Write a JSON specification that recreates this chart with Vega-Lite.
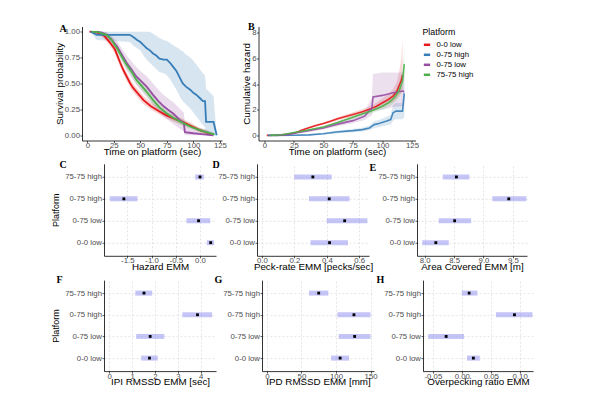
{
  "$schema": "https://vega.github.io/schema/vega-lite/v6.json",
  "padding": {"left": 51, "top": 21.5, "right": 5, "bottom": 5},
  "background": "white",
  "config": {
    "view": {"stroke": null},
    "font": "Liberation Sans",
    "axis": {
      "domainColor": "#000000", "domainWidth": 0.8,
      "tickColor": "#333333", "tickSize": 2, "tickWidth": 0.8,
      "labelColor": "#4d4d4d", "labelFontSize": 7.8, "labelFont": "Liberation Sans",
      "labelFlush": false, "labelOverlap": false,
      "titleFont": "Liberation Sans", "titleFontSize": 9.8, "titleFontWeight": "normal", "titleColor": "#000000",
      "grid": false,
      "gridColor": "#d4d4d4", "gridDash": [2, 2], "gridWidth": 0.6
    },
    "axisX": {"labelPadding": -1, "titlePadding": -3},
    "axisY": {"labelPadding": 0.5, "titlePadding": 3},
    "legend": {
      "titleFont": "Liberation Sans", "titleFontSize": 8.8, "titleFontWeight": "normal", "titleColor": "#000000",
      "labelFont": "Liberation Sans", "labelFontSize": 7.8, "labelColor": "#000000",
      "symbolType": "stroke", "symbolStrokeWidth": 2.5, "symbolSize": 40,
      "rowPadding": -1.5, "titlePadding": 4, "labelOffset": 5
    },
    "title": {"font": "Liberation Serif", "fontSize": 10, "fontWeight": "bold", "color": "#000000", "anchor": "start", "frame": "group", "baseline": "alphabetic", "offset": 0}
  },
  "datasets": {
    "surv": [
      {"platform": "0-0 low", "t": 2, "s": 1.0, "lo": 1.0, "hi": 1.0},
      {"platform": "0-0 low", "t": 8, "s": 0.995, "lo": 0.98, "hi": 1.0},
      {"platform": "0-0 low", "t": 12, "s": 0.98, "lo": 0.96, "hi": 0.99},
      {"platform": "0-0 low", "t": 16, "s": 0.96, "lo": 0.93, "hi": 0.98},
      {"platform": "0-0 low", "t": 21, "s": 0.9, "lo": 0.87, "hi": 0.93},
      {"platform": "0-0 low", "t": 26, "s": 0.83, "lo": 0.79, "hi": 0.86},
      {"platform": "0-0 low", "t": 31, "s": 0.7, "lo": 0.66, "hi": 0.74},
      {"platform": "0-0 low", "t": 34, "s": 0.63, "lo": 0.59, "hi": 0.67},
      {"platform": "0-0 low", "t": 37, "s": 0.57, "lo": 0.53, "hi": 0.61},
      {"platform": "0-0 low", "t": 40, "s": 0.51, "lo": 0.47, "hi": 0.55},
      {"platform": "0-0 low", "t": 43, "s": 0.46, "lo": 0.42, "hi": 0.5},
      {"platform": "0-0 low", "t": 48, "s": 0.4, "lo": 0.36, "hi": 0.44},
      {"platform": "0-0 low", "t": 53, "s": 0.34, "lo": 0.3, "hi": 0.38},
      {"platform": "0-0 low", "t": 60, "s": 0.28, "lo": 0.25, "hi": 0.32},
      {"platform": "0-0 low", "t": 68, "s": 0.23, "lo": 0.2, "hi": 0.26},
      {"platform": "0-0 low", "t": 75, "s": 0.19, "lo": 0.16, "hi": 0.22},
      {"platform": "0-0 low", "t": 82, "s": 0.16, "lo": 0.13, "hi": 0.19},
      {"platform": "0-0 low", "t": 90, "s": 0.13, "lo": 0.1, "hi": 0.16},
      {"platform": "0-0 low", "t": 98, "s": 0.09, "lo": 0.07, "hi": 0.12},
      {"platform": "0-0 low", "t": 106, "s": 0.05, "lo": 0.03, "hi": 0.07},
      {"platform": "0-0 low", "t": 112, "s": 0.03, "lo": 0.01, "hi": 0.05},
      {"platform": "0-0 low", "t": 117, "s": 0.0, "lo": 0.0, "hi": 0.02},

      {"platform": "0-75 high", "t": 3, "s": 1.0, "lo": 1.0, "hi": 1.0},
      {"platform": "0-75 high", "t": 9, "s": 0.97, "lo": 0.92, "hi": 1.0},
      {"platform": "0-75 high", "t": 40, "s": 0.97, "lo": 0.9, "hi": 1.0},
      {"platform": "0-75 high", "t": 43, "s": 0.95, "lo": 0.87, "hi": 1.0},
      {"platform": "0-75 high", "t": 47, "s": 0.92, "lo": 0.84, "hi": 1.0},
      {"platform": "0-75 high", "t": 50, "s": 0.9, "lo": 0.82, "hi": 1.0},
      {"platform": "0-75 high", "t": 53, "s": 0.87, "lo": 0.77, "hi": 1.0},
      {"platform": "0-75 high", "t": 56, "s": 0.84, "lo": 0.73, "hi": 1.0},
      {"platform": "0-75 high", "t": 59, "s": 0.82, "lo": 0.7, "hi": 1.0},
      {"platform": "0-75 high", "t": 62, "s": 0.79, "lo": 0.67, "hi": 0.98},
      {"platform": "0-75 high", "t": 65, "s": 0.77, "lo": 0.64, "hi": 0.96},
      {"platform": "0-75 high", "t": 68, "s": 0.74, "lo": 0.61, "hi": 0.94},
      {"platform": "0-75 high", "t": 72, "s": 0.73, "lo": 0.6, "hi": 0.92},
      {"platform": "0-75 high", "t": 75, "s": 0.73, "lo": 0.58, "hi": 0.91},
      {"platform": "0-75 high", "t": 78, "s": 0.7, "lo": 0.54, "hi": 0.89},
      {"platform": "0-75 high", "t": 81, "s": 0.66, "lo": 0.49, "hi": 0.87},
      {"platform": "0-75 high", "t": 84, "s": 0.62, "lo": 0.44, "hi": 0.85},
      {"platform": "0-75 high", "t": 86, "s": 0.58, "lo": 0.4, "hi": 0.84},
      {"platform": "0-75 high", "t": 88, "s": 0.54, "lo": 0.36, "hi": 0.82},
      {"platform": "0-75 high", "t": 90, "s": 0.5, "lo": 0.33, "hi": 0.81},
      {"platform": "0-75 high", "t": 93, "s": 0.47, "lo": 0.3, "hi": 0.78},
      {"platform": "0-75 high", "t": 97, "s": 0.44, "lo": 0.26, "hi": 0.75},
      {"platform": "0-75 high", "t": 100, "s": 0.41, "lo": 0.22, "hi": 0.72},
      {"platform": "0-75 high", "t": 103, "s": 0.39, "lo": 0.18, "hi": 0.68},
      {"platform": "0-75 high", "t": 106, "s": 0.36, "lo": 0.14, "hi": 0.64},
      {"platform": "0-75 high", "t": 109, "s": 0.33, "lo": 0.1, "hi": 0.6},
      {"platform": "0-75 high", "t": 111, "s": 0.33, "lo": 0.08, "hi": 0.58},
      {"platform": "0-75 high", "t": 112, "s": 0.13, "lo": 0.0, "hi": 0.45},
      {"platform": "0-75 high", "t": 119, "s": 0.13, "lo": 0.0, "hi": 0.38},
      {"platform": "0-75 high", "t": 122, "s": 0.0, "lo": 0.0, "hi": 0.0},

      {"platform": "0-75 low", "t": 9, "s": 1.0, "lo": 1.0, "hi": 1.0},
      {"platform": "0-75 low", "t": 14, "s": 0.99, "lo": 0.97, "hi": 1.0},
      {"platform": "0-75 low", "t": 18, "s": 0.97, "lo": 0.94, "hi": 1.0},
      {"platform": "0-75 low", "t": 23, "s": 0.92, "lo": 0.88, "hi": 0.96},
      {"platform": "0-75 low", "t": 28, "s": 0.86, "lo": 0.81, "hi": 0.91},
      {"platform": "0-75 low", "t": 33, "s": 0.77, "lo": 0.71, "hi": 0.83},
      {"platform": "0-75 low", "t": 37, "s": 0.7, "lo": 0.63, "hi": 0.77},
      {"platform": "0-75 low", "t": 42, "s": 0.63, "lo": 0.55, "hi": 0.71},
      {"platform": "0-75 low", "t": 46, "s": 0.57, "lo": 0.49, "hi": 0.66},
      {"platform": "0-75 low", "t": 51, "s": 0.52, "lo": 0.43, "hi": 0.61},
      {"platform": "0-75 low", "t": 56, "s": 0.47, "lo": 0.37, "hi": 0.57},
      {"platform": "0-75 low", "t": 62, "s": 0.39, "lo": 0.29, "hi": 0.5},
      {"platform": "0-75 low", "t": 67, "s": 0.33, "lo": 0.23, "hi": 0.44},
      {"platform": "0-75 low", "t": 72, "s": 0.28, "lo": 0.18, "hi": 0.39},
      {"platform": "0-75 low", "t": 77, "s": 0.24, "lo": 0.14, "hi": 0.35},
      {"platform": "0-75 low", "t": 81, "s": 0.21, "lo": 0.11, "hi": 0.32},
      {"platform": "0-75 low", "t": 85, "s": 0.17, "lo": 0.08, "hi": 0.28},
      {"platform": "0-75 low", "t": 89, "s": 0.13, "lo": 0.05, "hi": 0.24},
      {"platform": "0-75 low", "t": 91, "s": 0.12, "lo": 0.04, "hi": 0.22},
      {"platform": "0-75 low", "t": 92, "s": 0.03, "lo": 0.0, "hi": 0.1},
      {"platform": "0-75 low", "t": 100, "s": 0.02, "lo": 0.0, "hi": 0.08},
      {"platform": "0-75 low", "t": 110, "s": 0.01, "lo": 0.0, "hi": 0.06},
      {"platform": "0-75 low", "t": 119, "s": 0.0, "lo": 0.0, "hi": 0.03},

      {"platform": "75-75 high", "t": 4, "s": 1.0, "lo": 1.0, "hi": 1.0},
      {"platform": "75-75 high", "t": 10, "s": 0.995, "lo": 0.98, "hi": 1.0},
      {"platform": "75-75 high", "t": 18, "s": 0.97, "lo": 0.95, "hi": 0.99},
      {"platform": "75-75 high", "t": 23, "s": 0.92, "lo": 0.89, "hi": 0.95},
      {"platform": "75-75 high", "t": 28, "s": 0.84, "lo": 0.8, "hi": 0.87},
      {"platform": "75-75 high", "t": 33, "s": 0.75, "lo": 0.71, "hi": 0.79},
      {"platform": "75-75 high", "t": 37, "s": 0.68, "lo": 0.64, "hi": 0.72},
      {"platform": "75-75 high", "t": 42, "s": 0.61, "lo": 0.57, "hi": 0.65},
      {"platform": "75-75 high", "t": 46, "s": 0.54, "lo": 0.5, "hi": 0.58},
      {"platform": "75-75 high", "t": 51, "s": 0.48, "lo": 0.44, "hi": 0.52},
      {"platform": "75-75 high", "t": 56, "s": 0.42, "lo": 0.38, "hi": 0.46},
      {"platform": "75-75 high", "t": 62, "s": 0.34, "lo": 0.3, "hi": 0.38},
      {"platform": "75-75 high", "t": 68, "s": 0.27, "lo": 0.24, "hi": 0.31},
      {"platform": "75-75 high", "t": 75, "s": 0.21, "lo": 0.18, "hi": 0.24},
      {"platform": "75-75 high", "t": 81, "s": 0.17, "lo": 0.14, "hi": 0.2},
      {"platform": "75-75 high", "t": 90, "s": 0.12, "lo": 0.09, "hi": 0.15},
      {"platform": "75-75 high", "t": 98, "s": 0.08, "lo": 0.06, "hi": 0.11},
      {"platform": "75-75 high", "t": 106, "s": 0.05, "lo": 0.03, "hi": 0.07},
      {"platform": "75-75 high", "t": 112, "s": 0.03, "lo": 0.01, "hi": 0.05},
      {"platform": "75-75 high", "t": 120, "s": 0.01, "lo": 0.0, "hi": 0.02}
    ],
    "haz": [
      {"platform": "0-0 low", "t": 2, "h": 0, "lo": 0, "hi": 0},
      {"platform": "0-0 low", "t": 12, "h": 0.02, "lo": 0.01, "hi": 0.04},
      {"platform": "0-0 low", "t": 21, "h": 0.1, "lo": 0.07, "hi": 0.14},
      {"platform": "0-0 low", "t": 26, "h": 0.18, "lo": 0.14, "hi": 0.23},
      {"platform": "0-0 low", "t": 31, "h": 0.38, "lo": 0.32, "hi": 0.45},
      {"platform": "0-0 low", "t": 37, "h": 0.57, "lo": 0.5, "hi": 0.65},
      {"platform": "0-0 low", "t": 43, "h": 0.75, "lo": 0.67, "hi": 0.84},
      {"platform": "0-0 low", "t": 50, "h": 0.92, "lo": 0.83, "hi": 1.02},
      {"platform": "0-0 low", "t": 56, "h": 1.1, "lo": 1.0, "hi": 1.21},
      {"platform": "0-0 low", "t": 62, "h": 1.29, "lo": 1.17, "hi": 1.42},
      {"platform": "0-0 low", "t": 68, "h": 1.45, "lo": 1.32, "hi": 1.59},
      {"platform": "0-0 low", "t": 75, "h": 1.63, "lo": 1.48, "hi": 1.8},
      {"platform": "0-0 low", "t": 83, "h": 1.84, "lo": 1.66, "hi": 2.04},
      {"platform": "0-0 low", "t": 90, "h": 2.07, "lo": 1.86, "hi": 2.31},
      {"platform": "0-0 low", "t": 95, "h": 2.28, "lo": 2.03, "hi": 2.56},
      {"platform": "0-0 low", "t": 100, "h": 2.55, "lo": 2.25, "hi": 2.9},
      {"platform": "0-0 low", "t": 105, "h": 2.8, "lo": 2.44, "hi": 3.22},
      {"platform": "0-0 low", "t": 109, "h": 3.07, "lo": 2.63, "hi": 3.6},
      {"platform": "0-0 low", "t": 112, "h": 3.4, "lo": 2.85, "hi": 4.1},
      {"platform": "0-0 low", "t": 114, "h": 3.86, "lo": 3.1, "hi": 4.9},
      {"platform": "0-0 low", "t": 116, "h": 4.3, "lo": 3.3, "hi": 6.0},
      {"platform": "0-0 low", "t": 117, "h": 4.7, "lo": 3.4, "hi": 7.6},

      {"platform": "0-75 high", "t": 3, "h": 0, "lo": 0, "hi": 0},
      {"platform": "0-75 high", "t": 25, "h": 0.01, "lo": 0, "hi": 0.03},
      {"platform": "0-75 high", "t": 38, "h": 0.04, "lo": 0.01, "hi": 0.08},
      {"platform": "0-75 high", "t": 50, "h": 0.13, "lo": 0.06, "hi": 0.2},
      {"platform": "0-75 high", "t": 61, "h": 0.26, "lo": 0.15, "hi": 0.37},
      {"platform": "0-75 high", "t": 75, "h": 0.37, "lo": 0.24, "hi": 0.5},
      {"platform": "0-75 high", "t": 83, "h": 0.45, "lo": 0.3, "hi": 0.6},
      {"platform": "0-75 high", "t": 89, "h": 0.58, "lo": 0.4, "hi": 0.78},
      {"platform": "0-75 high", "t": 93, "h": 0.84, "lo": 0.58, "hi": 1.1},
      {"platform": "0-75 high", "t": 97, "h": 0.92, "lo": 0.64, "hi": 1.2},
      {"platform": "0-75 high", "t": 103, "h": 1.1, "lo": 0.77, "hi": 1.43},
      {"platform": "0-75 high", "t": 107, "h": 1.23, "lo": 0.85, "hi": 1.6},
      {"platform": "0-75 high", "t": 109, "h": 1.76, "lo": 1.15, "hi": 2.37},
      {"platform": "0-75 high", "t": 111.5, "h": 1.89, "lo": 1.25, "hi": 2.53},
      {"platform": "0-75 high", "t": 117, "h": 1.89, "lo": 1.25, "hi": 2.53},
      {"platform": "0-75 high", "t": 118.5, "h": 3.28, "lo": 1.4, "hi": 5.0},

      {"platform": "0-75 low", "t": 9, "h": 0, "lo": 0, "hi": 0},
      {"platform": "0-75 low", "t": 18, "h": 0.04, "lo": 0.01, "hi": 0.07},
      {"platform": "0-75 low", "t": 25, "h": 0.17, "lo": 0.1, "hi": 0.25},
      {"platform": "0-75 low", "t": 35, "h": 0.32, "lo": 0.23, "hi": 0.42},
      {"platform": "0-75 low", "t": 50, "h": 0.58, "lo": 0.45, "hi": 0.72},
      {"platform": "0-75 low", "t": 62, "h": 0.88, "lo": 0.72, "hi": 1.06},
      {"platform": "0-75 low", "t": 75, "h": 1.15, "lo": 0.95, "hi": 1.38},
      {"platform": "0-75 low", "t": 85, "h": 1.5, "lo": 1.2, "hi": 1.85},
      {"platform": "0-75 low", "t": 89, "h": 1.95, "lo": 1.45, "hi": 2.6},
      {"platform": "0-75 low", "t": 91, "h": 2.1, "lo": 1.55, "hi": 2.9},
      {"platform": "0-75 low", "t": 92, "h": 3.0, "lo": 1.9, "hi": 4.8},
      {"platform": "0-75 low", "t": 100, "h": 3.12, "lo": 2.0, "hi": 4.9},
      {"platform": "0-75 low", "t": 109, "h": 3.33, "lo": 2.2, "hi": 4.9},
      {"platform": "0-75 low", "t": 117, "h": 3.46, "lo": 2.3, "hi": 4.9},
      {"platform": "0-75 low", "t": 118.5, "h": 3.4, "lo": 2.3, "hi": 4.9},

      {"platform": "75-75 high", "t": 5, "h": 0, "lo": 0, "hi": 0},
      {"platform": "75-75 high", "t": 15, "h": 0.05, "lo": 0.03, "hi": 0.07},
      {"platform": "75-75 high", "t": 25, "h": 0.22, "lo": 0.18, "hi": 0.27},
      {"platform": "75-75 high", "t": 35, "h": 0.38, "lo": 0.33, "hi": 0.44},
      {"platform": "75-75 high", "t": 50, "h": 0.66, "lo": 0.59, "hi": 0.74},
      {"platform": "75-75 high", "t": 62, "h": 1.0, "lo": 0.9, "hi": 1.1},
      {"platform": "75-75 high", "t": 75, "h": 1.42, "lo": 1.28, "hi": 1.57},
      {"platform": "75-75 high", "t": 82, "h": 1.65, "lo": 1.48, "hi": 1.83},
      {"platform": "75-75 high", "t": 90, "h": 1.89, "lo": 1.69, "hi": 2.1},
      {"platform": "75-75 high", "t": 100, "h": 2.28, "lo": 2.02, "hi": 2.56},
      {"platform": "75-75 high", "t": 106, "h": 2.6, "lo": 2.28, "hi": 2.95},
      {"platform": "75-75 high", "t": 110, "h": 2.94, "lo": 2.55, "hi": 3.35},
      {"platform": "75-75 high", "t": 114, "h": 3.46, "lo": 2.95, "hi": 4.0},
      {"platform": "75-75 high", "t": 117, "h": 4.25, "lo": 3.5, "hi": 5.0},
      {"platform": "75-75 high", "t": 118.5, "h": 5.56, "lo": 4.5, "hi": 6.5}
    ],
    "emm": [
      {"panel": "C", "platform": "75-75 high", "emm": 0.0, "lo": -0.1, "hi": 0.08},
      {"panel": "C", "platform": "0-75 high", "emm": -1.57, "lo": -1.86, "hi": -1.29},
      {"panel": "C", "platform": "0-75 low", "emm": -0.03, "lo": -0.28, "hi": 0.21},
      {"panel": "C", "platform": "0-0 low", "emm": 0.22, "lo": 0.14, "hi": 0.29},
      {"panel": "D", "platform": "75-75 high", "emm": 0.314, "lo": 0.2, "hi": 0.43},
      {"panel": "D", "platform": "0-75 high", "emm": 0.415, "lo": 0.29, "hi": 0.54},
      {"panel": "D", "platform": "0-75 low", "emm": 0.51, "lo": 0.4, "hi": 0.65},
      {"panel": "D", "platform": "0-0 low", "emm": 0.417, "lo": 0.3, "hi": 0.53},
      {"panel": "E", "platform": "75-75 high", "emm": 8.54, "lo": 8.31, "hi": 8.76},
      {"panel": "E", "platform": "0-75 high", "emm": 9.43, "lo": 9.15, "hi": 9.73},
      {"panel": "E", "platform": "0-75 low", "emm": 8.51, "lo": 8.24, "hi": 8.79},
      {"panel": "E", "platform": "0-0 low", "emm": 8.19, "lo": 7.96, "hi": 8.41},
      {"panel": "F", "platform": "75-75 high", "emm": 1.52, "lo": 1.14, "hi": 1.88},
      {"panel": "F", "platform": "0-75 high", "emm": 3.86, "lo": 3.2, "hi": 4.5},
      {"panel": "F", "platform": "0-75 low", "emm": 1.79, "lo": 1.18, "hi": 2.41},
      {"panel": "F", "platform": "0-0 low", "emm": 1.76, "lo": 1.4, "hi": 2.12},
      {"panel": "G", "platform": "75-75 high", "emm": 75, "lo": 61, "hi": 89},
      {"panel": "G", "platform": "0-75 high", "emm": 126, "lo": 102, "hi": 150},
      {"panel": "G", "platform": "0-75 low", "emm": 127, "lo": 104, "hi": 150},
      {"panel": "G", "platform": "0-0 low", "emm": 106, "lo": 93, "hi": 119},
      {"panel": "H", "platform": "75-75 high", "emm": 0.0127, "lo": 0.0, "hi": 0.027},
      {"panel": "H", "platform": "0-75 high", "emm": 0.091, "lo": 0.059, "hi": 0.122},
      {"panel": "H", "platform": "0-75 low", "emm": -0.027, "lo": -0.058, "hi": 0.004},
      {"panel": "H", "platform": "0-0 low", "emm": 0.02, "lo": 0.009, "hi": 0.031}
    ]
  },
  "resolve": {"legend": {"color": "independent"}},
  "columns": 1,
  "spacing": 3.3,
  "concat": [
    {
      "spacing": -2.5,
      "resolve": {"legend": {"color": "independent"}},
      "hconcat": [
        {
          "width": 118, "height": 114,
          "title": {"text": "A", "dx": -44.5, "dy": 11},
          "data": {"name": "surv"},
          "layer": [
            {
              "mark": {"type": "area", "opacity": 0.2, "clip": false},
              "encoding": {
                "x": {"field": "t", "type": "quantitative", "scale": {"domain": [-5, 127], "range": [-22, 118], "nice": false, "zero": false}, "axis": {"title": "Time on platform (sec)", "values": [0, 25, 50, 75, 100, 125], "tickCount": 20, "format": "d"}},
                "y": {"field": "lo", "type": "quantitative", "scale": {"domain": [-0.05, 1.05], "nice": false, "zero": false}, "axis": {"title": "Survival probability", "values": [0, 0.25, 0.5, 0.75, 1], "tickCount": 20, "format": ".2f", "titlePadding": 0, "offset": 22}},
                "y2": {"field": "hi"},
                "color": {"field": "platform", "type": "nominal", "scale": {"domain": ["0-0 low", "0-75 high", "0-75 low", "75-75 high"], "range": ["#E41A1C", "#377EB8", "#984EA3", "#4DAF4A"]}, "legend": null}
              }
            },
            {
              "mark": {"type": "line", "strokeWidth": 1.8, "clip": false},
              "encoding": {
                "x": {"field": "t", "type": "quantitative"},
                "y": {"field": "s", "type": "quantitative"},
                "color": {"field": "platform", "type": "nominal", "legend": null}
              }
            }
          ]
        },
        {
          "width": 157, "height": 114,
          "title": {"text": "B", "dx": -10.5, "dy": 9},
          "data": {"name": "haz"},
          "layer": [
            {
              "mark": {"type": "area", "opacity": 0.18, "clip": true},
              "encoding": {
                "x": {"field": "t", "type": "quantitative", "scale": {"domain": [-5, 128], "nice": false, "zero": false}, "axis": {"title": "Time on platform (sec)", "values": [0, 25, 50, 75, 100, 125], "tickCount": 20, "format": "d"}},
                "y": {"field": "lo", "type": "quantitative", "scale": {"domain": [-0.4, 8.5], "nice": false, "zero": false}, "axis": {"title": "Cumulative hazard", "values": [0, 2, 4, 6, 8], "tickCount": 20, "format": "d", "titlePadding": 0}},
                "y2": {"field": "hi"},
                "color": {"field": "platform", "type": "nominal", "scale": {"domain": ["0-0 low", "0-75 high", "0-75 low", "75-75 high"], "range": ["#E41A1C", "#377EB8", "#984EA3", "#4DAF4A"]}, "legend": {"title": "Platform", "orient": "none", "legendX": 164, "legendY": 1, "symbolOpacity": 1}}
              }
            },
            {
              "mark": {"type": "line", "strokeWidth": 1.6, "opacity": 0.9, "clip": true},
              "encoding": {
                "x": {"field": "t", "type": "quantitative"},
                "y": {"field": "h", "type": "quantitative"},
                "color": {"field": "platform", "type": "nominal", "legend": {"title": "Platform", "orient": "none", "legendX": 164, "legendY": 1, "symbolOpacity": 1}}
              }
            }
          ]
        }
      ]
    },
    {
      "spacing": -4,
      "hconcat": [
        {
          "width": 112, "height": 92,
          "title": {"text": "C", "dx": -44.5, "dy": 10},
          "data": {"name": "emm"},
          "transform": [{"filter": "datum.panel == 'C'"}],
          "encoding": {"y": {"field": "platform", "type": "nominal", "scale": {"type": "point", "domain": ["75-75 high", "0-75 high", "0-75 low", "0-0 low"], "padding": 0.6}, "axis": {"title": "Platform", "grid": true, "titleFontSize": 9, "titlePadding": 4.1}}},
          "layer": [
            {"mark": {"type": "rule", "strokeWidth": 5, "color": "#8c8cf0", "opacity": 0.5, "strokeCap": "butt", "clip": true},
             "encoding": {"x": {"field": "lo", "type": "quantitative", "title": "Hazard EMM", "scale": {"domain": [-1.98, 0.33], "nice": false, "zero": false}, "axis": {"grid": true, "values": [-1.5, -1.0, -0.5, 0.0], "tickCount": 20, "labelExpr": "replace(format(datum.value, '.1f'), '\u2212', '-')"}}, "x2": {"field": "hi"}}},
            {"mark": {"type": "square", "size": 8, "color": "#000000", "opacity": 1},
             "encoding": {"x": {"field": "emm", "type": "quantitative", "title": "Hazard EMM"}}}
          ]
        },
        {
          "width": 112, "height": 92,
          "title": {"text": "D", "dx": -44.5, "dy": 10},
          "data": {"name": "emm"},
          "transform": [{"filter": "datum.panel == 'D'"}],
          "encoding": {"y": {"field": "platform", "type": "nominal", "scale": {"type": "point", "domain": ["75-75 high", "0-75 high", "0-75 low", "0-0 low"], "padding": 0.6}, "axis": {"title": null, "grid": true}}},
          "layer": [
            {"mark": {"type": "rule", "strokeWidth": 5, "color": "#8c8cf0", "opacity": 0.5, "strokeCap": "butt", "clip": true},
             "encoding": {"x": {"field": "lo", "type": "quantitative", "title": "Peck-rate EMM [pecks/sec]", "scale": {"domain": [-0.03, 0.66], "nice": false, "zero": false}, "axis": {"grid": true, "values": [0, 0.2, 0.4, 0.6], "tickCount": 20, "format": ".1f"}}, "x2": {"field": "hi"}}},
            {"mark": {"type": "square", "size": 8, "color": "#000000", "opacity": 1},
             "encoding": {"x": {"field": "emm", "type": "quantitative", "title": "Peck-rate EMM [pecks/sec]"}}}
          ]
        },
        {
          "width": 110, "height": 92,
          "title": {"text": "E", "dx": -47.5, "dy": 13},
          "data": {"name": "emm"},
          "transform": [{"filter": "datum.panel == 'E'"}],
          "encoding": {"y": {"field": "platform", "type": "nominal", "scale": {"type": "point", "domain": ["75-75 high", "0-75 high", "0-75 low", "0-0 low"], "padding": 0.6}, "axis": {"title": null, "grid": true}}},
          "layer": [
            {"mark": {"type": "rule", "strokeWidth": 5, "color": "#8c8cf0", "opacity": 0.5, "strokeCap": "butt", "clip": true},
             "encoding": {"x": {"field": "lo", "type": "quantitative", "title": "Area Covered EMM [m]", "scale": {"domain": [7.87, 9.74], "nice": false, "zero": false}, "axis": {"grid": true, "values": [8, 8.5, 9, 9.5], "tickCount": 20, "format": ".1f"}}, "x2": {"field": "hi"}}},
            {"mark": {"type": "square", "size": 8, "color": "#000000", "opacity": 1},
             "encoding": {"x": {"field": "emm", "type": "quantitative", "title": "Area Covered EMM [m]"}}}
          ]
        }
      ]
    },
    {
      "spacing": -2,
      "hconcat": [
        {
          "width": 112, "height": 91,
          "title": {"text": "F", "dx": -47.5, "dy": 9},
          "data": {"name": "emm"},
          "transform": [{"filter": "datum.panel == 'F'"}],
          "encoding": {"y": {"field": "platform", "type": "nominal", "scale": {"type": "point", "domain": ["75-75 high", "0-75 high", "0-75 low", "0-0 low"], "padding": 0.6}, "axis": {"title": "Platform", "grid": true, "titleFontSize": 9, "titlePadding": 4.1}}},
          "layer": [
            {"mark": {"type": "rule", "strokeWidth": 5, "color": "#8c8cf0", "opacity": 0.5, "strokeCap": "butt", "clip": true},
             "encoding": {"x": {"field": "lo", "type": "quantitative", "title": "IPI RMSSD EMM [sec]", "scale": {"domain": [-0.23, 4.67], "nice": false, "zero": false}, "axis": {"grid": true, "values": [0, 1, 2, 3, 4], "tickCount": 20, "format": "d"}}, "x2": {"field": "hi"}}},
            {"mark": {"type": "square", "size": 8, "color": "#000000", "opacity": 1},
             "encoding": {"x": {"field": "emm", "type": "quantitative", "title": "IPI RMSSD EMM [sec]"}}}
          ]
        },
        {
          "width": 112, "height": 91,
          "title": {"text": "G", "dx": -47.5, "dy": 9},
          "data": {"name": "emm"},
          "transform": [{"filter": "datum.panel == 'G'"}],
          "encoding": {"y": {"field": "platform", "type": "nominal", "scale": {"type": "point", "domain": ["75-75 high", "0-75 high", "0-75 low", "0-0 low"], "padding": 0.6}, "axis": {"title": null, "grid": true}}},
          "layer": [
            {"mark": {"type": "rule", "strokeWidth": 5, "color": "#8c8cf0", "opacity": 0.5, "strokeCap": "butt", "clip": true},
             "encoding": {"x": {"field": "lo", "type": "quantitative", "title": "IPD RMSSD EMM [mm]", "scale": {"domain": [-7, 155], "nice": false, "zero": false}, "axis": {"grid": true, "values": [0, 50, 100, 150], "tickCount": 20, "format": "d"}}, "x2": {"field": "hi"}}},
            {"mark": {"type": "square", "size": 8, "color": "#000000", "opacity": 1},
             "encoding": {"x": {"field": "emm", "type": "quantitative", "title": "IPD RMSSD EMM [mm]"}}}
          ]
        },
        {
          "width": 110, "height": 91,
          "title": {"text": "H", "dx": -46.5, "dy": 9},
          "data": {"name": "emm"},
          "transform": [{"filter": "datum.panel == 'H'"}],
          "encoding": {"y": {"field": "platform", "type": "nominal", "scale": {"type": "point", "domain": ["75-75 high", "0-75 high", "0-75 low", "0-0 low"], "padding": 0.6}, "axis": {"title": null, "grid": true}}},
          "layer": [
            {"mark": {"type": "rule", "strokeWidth": 5, "color": "#8c8cf0", "opacity": 0.5, "strokeCap": "butt", "clip": true},
             "encoding": {"x": {"field": "lo", "type": "quantitative", "title": "Overpecking ratio EMM", "scale": {"domain": [-0.067, 0.123], "nice": false, "zero": false}, "axis": {"grid": true, "values": [-0.05, 0, 0.05, 0.1], "tickCount": 20, "labelExpr": "replace(format(datum.value, '.2f'), '\u2212', '-')"}}, "x2": {"field": "hi"}}},
            {"mark": {"type": "square", "size": 8, "color": "#000000", "opacity": 1},
             "encoding": {"x": {"field": "emm", "type": "quantitative", "title": "Overpecking ratio EMM"}}}
          ]
        }
      ]
    }
  ]
}
